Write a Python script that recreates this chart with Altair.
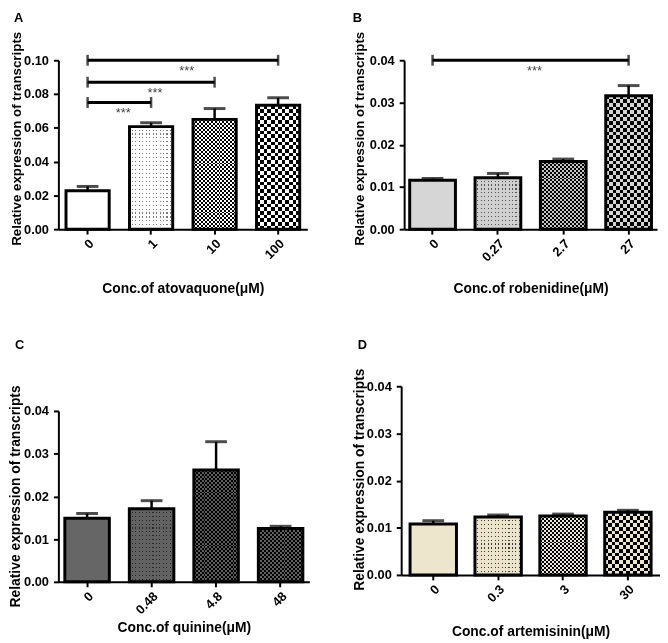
import altair as alt
import pandas as pd

FONT = "Liberation Sans"

# ---------------- data ----------------
A_conc = ["0", "1", "10", "100"]
A_mean = [0.0228, 0.0607, 0.0650, 0.0733]
A_err = [0.0025, 0.0023, 0.0064, 0.0045]
A_brk_left = ["0", "0", "0"]
A_brk_right = ["1", "10", "100"]
A_brk_level = [0.075, 0.087, 0.100]
A_brk_label = ["***", "***", "***"]

B_conc = ["0", "0.27", "2.7", "27"]
B_mean = [0.0116, 0.0122, 0.0160, 0.0316]
B_err = [0.0004, 0.0010, 0.0006, 0.0024]
B_brk_left = ["0"]
B_brk_right = ["27"]
B_brk_level = [0.040]
B_brk_label = ["***"]

C_conc = ["0", "0.48", "4.8", "48"]
C_mean = [0.0149, 0.0171, 0.0262, 0.0125]
C_err = [0.0011, 0.0019, 0.0066, 0.0005]

D_conc = ["0", "0.3", "3", "30"]
D_mean = [0.0108, 0.0123, 0.0125, 0.0133]
D_err = [0.0007, 0.0004, 0.0004, 0.0004]

# ---------------- styles (fill patterns) ----------------
# ("solid", colour) | ("dots", background, dot colour) | ("checker", light colour, square px)
A_style = [("solid", "#ffffff"), ("dots", "#ffffff", "#7a7a7a"),
           ("checker", "#ffffff", 2.0), ("checker", "#ffffff", 3.7)]
B_style = [("solid", "#d4d4d4"), ("dots", "#d0d0d0", "#555555"),
           ("checker", "#c4c4c4", 2.0), ("checker", "#d4d4d4", 3.7)]
C_style = [("solid", "#666666"), ("dots", "#626262", "#262626"),
           ("checker", "#5c5c5c", 2.0), ("checker", "#606060", 2.0)]
D_style = [("solid", "#ede6cc"), ("dots", "#ebe4ca", "#3a3a3a"),
           ("checker", "#ede6cc", 2.0), ("checker", "#ede6cc", 3.7)]
# average tone of each bar (drawn underneath the pattern)
A_fill = ["#ffffff", "#e8e8e8", "#8a8a8a", "#6c6c6c"]
B_fill = ["#d6d6d6", "#c6c6c6", "#707070", "#6e6e6e"]
C_fill = ["#666666", "#5e5e5e", "#404040", "#474747"]
D_fill = ["#ede6cc", "#ddd6bd", "#8f8b7d", "#77746a"]

YTITLE = "Relative expression of transcripts"


def stripe_gradient(c1, c2, n, horizontal):
    stops = []
    n = max(1, int(n))
    for i in range(n):
        col = c1 if i % 2 == 0 else c2
        stops.append(alt.GradientStop(offset=i / n, color=col))
        stops.append(alt.GradientStop(offset=(i + 1) / n, color=col))
    if horizontal:
        return alt.LinearGradient(gradient="linear", stops=stops, x1=0, y1=0, x2=1, y2=0)
    return alt.LinearGradient(gradient="linear", stops=stops, x1=0, y1=0, x2=0, y2=1)


def dot_gradient(bg, dot, length, period, horizontal):
    stops = []
    j = 0
    while j * period < length:
        a = j * period / length
        b = min(1.0, (j * period + period - 1.1) / length)
        c = min(1.0, (j + 1) * period / length)
        stops.append(alt.GradientStop(offset=a, color=bg))
        stops.append(alt.GradientStop(offset=b, color=bg))
        stops.append(alt.GradientStop(offset=b, color=dot))
        stops.append(alt.GradientStop(offset=c, color=dot))
        j += 1
    if horizontal:
        return alt.LinearGradient(gradient="linear", stops=stops, x1=0, y1=0, x2=1, y2=0)
    return alt.LinearGradient(gradient="linear", stops=stops, x1=0, y1=0, x2=0, y2=1)


def panel(key, letter, cats, means, errs, fills, styles, ymax, yticks, width, height,
          pad_in, pad_out, xtitle, ytitle_x, ytitle_y, ytitle_size, xtitle_y,
          title_offset, title_dx, brackets=None):
    df = pd.DataFrame({
        "conc": cats,
        "mean": means,
        "upper": [m + e for m, e in zip(means, errs)],
    })
    xscale = alt.Scale(domain=cats, paddingInner=pad_in, paddingOuter=pad_out)
    yscale = alt.Scale(domain=[0, ymax], nice=False, zero=True)
    xaxis = alt.Axis(
        labelAngle=-45, labelFont=FONT, labelFontSize=13, labelFontWeight="bold",
        labelColor="black", labelPadding=3, tickSize=5, tickWidth=2, tickColor="black",
        domainColor="black", domainWidth=2, grid=False,
        titleFont=FONT, titleFontSize=14, titleFontWeight="bold", titleColor="black",
        titleY=xtitle_y, titleBaseline="middle",
    )
    yaxis = alt.Axis(
        values=yticks, format=".2f", labelFont=FONT, labelFontSize=13,
        labelFontWeight="bold", labelColor="black", labelPadding=5,
        tickSize=5, tickWidth=2, tickColor="black",
        domainColor="black", domainWidth=2, grid=False,
        titleFont=FONT, titleFontSize=ytitle_size, titleFontWeight="bold", titleColor="black",
        titleX=ytitle_x, titleY=ytitle_y, titleBaseline="middle", titleAlign="center",
    )

    def X(field):
        return alt.X(field, scale=xscale, axis=xaxis, title=xtitle)

    def Y(field):
        return alt.Y(field, scale=yscale, axis=yaxis, title=YTITLE)

    fill_field = "fill_" + key
    base = alt.Chart(df).transform_calculate(**{fill_field: "datum.conc"})
    layers = [base.mark_bar(strokeWidth=0).encode(
        x=X("conc:N"),
        y=Y("mean:Q"),
        fill=alt.Fill(fill_field + ":N", scale=alt.Scale(domain=cats, range=fills), legend=None),
    )]

    step = width / (len(cats) - pad_in + 2 * pad_out)
    bw = step * (1 - pad_in)
    for cat, mean, style in zip(cats, means, styles):
        if style[0] == "solid":
            continue
        hpx = mean / ymax * height
        one = base.transform_filter(alt.datum.conc == cat)
        if style[0] == "checker":
            light, sq = style[1], style[2]
            g1 = stripe_gradient(light, "#000000", round(hpx / sq), horizontal=False)
            g2 = stripe_gradient(light, "#000000", round(bw / sq), horizontal=True)
            blend = "difference"
        else:
            bg, dot = style[1], style[2]
            g1 = dot_gradient(bg, dot, hpx, 4.0, horizontal=False)
            g2 = dot_gradient(bg, dot, bw, 3.5, horizontal=True)
            blend = "lighten"
        layers.append(one.mark_bar(fill=g1, strokeWidth=0).encode(x=X("conc:N"), y=Y("mean:Q")))
        layers.append(one.mark_bar(fill=g2, strokeWidth=0, blend=blend).encode(
            x=X("conc:N"), y=Y("mean:Q")))

    layers.append(base.mark_bar(fillOpacity=0, stroke="black", strokeWidth=3).encode(
        x=X("conc:N"), y=Y("mean:Q")))
    layers.append(base.mark_rule(color="black", strokeWidth=2.5).encode(
        x=X("conc:N"), y=Y("mean:Q"), y2="upper:Q",
    ))
    layers.append(base.mark_tick(orient="horizontal", color="black", thickness=3, size=22).encode(
        x=X("conc:N"), y=Y("upper:Q"),
    ))
    if brackets is not None:
        bl, br, lv, lb = brackets
        bdf = pd.DataFrame({"left": bl, "right": br, "level": lv, "label": lb})
        bb = alt.Chart(bdf)
        layers.append(bb.mark_rule(color="black", strokeWidth=3).encode(
            x=X("left:N"), x2="right:N", y=Y("level:Q"),
        ))
        layers.append(bb.transform_fold(["left", "right"], as_=["end", "cat"]).mark_tick(
            orient="vertical", color="black", thickness=2.5, size=11).encode(
            x=X("cat:N"), y=Y("level:Q"),
        ))
        # asterisks placed near the middle of each bracket
        for left, right in zip(bl, br):
            k = cats.index(right) - cats.index(left)
            layers.append(bb.transform_filter(alt.datum.right == right).mark_text(
                font=FONT, fontSize=13, color="#444444", baseline="top",
                dy=5, dx=k * step / 2 + 4,
            ).encode(
                x=X("left:N"), y=Y("level:Q"), text="label:N",
            ))
    return alt.layer(*layers).properties(
        width=width, height=height,
        title=alt.TitleParams(text=letter, anchor="start", frame="bounds",
                              offset=title_offset, dx=title_dx, font=FONT,
                              fontSize=13, fontWeight="bold", color="black"),
    )


pA = panel("a", "A", A_conc, A_mean, A_err, A_fill, A_style, 0.10,
           [0, 0.02, 0.04, 0.06, 0.08, 0.10],
           252, 171, 0.32, 0.12, "Conc.of atovaquone(μM)", -42, 79, 13.5, 60, 6, 4,
           brackets=(A_brk_left, A_brk_right, A_brk_level, A_brk_label))
pB = panel("b", "B", B_conc, B_mean, B_err, B_fill, B_style, 0.04,
           [0, 0.01, 0.02, 0.03, 0.04],
           256, 171, 0.30, 0.085, "Conc.of robenidine(μM)", -45, 79, 13.5, 60, 6, 0,
           brackets=(B_brk_left, B_brk_right, B_brk_level, B_brk_label))
pC = panel("c", "C", C_conc, C_mean, C_err, C_fill, C_style, 0.04,
           [0, 0.01, 0.02, 0.03, 0.04],
           254, 173, 0.31, 0.10, "Conc.of quinine(μM)", -43, 86, 14, 46, 33, 6)
pD = panel("d", "D", D_conc, D_mean, D_err, D_fill, D_style, 0.04,
           [0, 0.01, 0.02, 0.03, 0.04],
           262, 191, 0.285, 0.137, "Conc.of artemisinin(μM)", -42, 94, 14, 57, 16, 5)

chart = alt.concat(
    pA, pB, pC, pD, columns=2,
    spacing={"row": 44, "column": 43}, align="none", bounds="full",
).resolve_scale(fill="independent").properties(
    padding=0, background="white"
).configure_view(stroke=None)

chart.save("out.html", embed_options={"renderer": "svg", "actions": False})
